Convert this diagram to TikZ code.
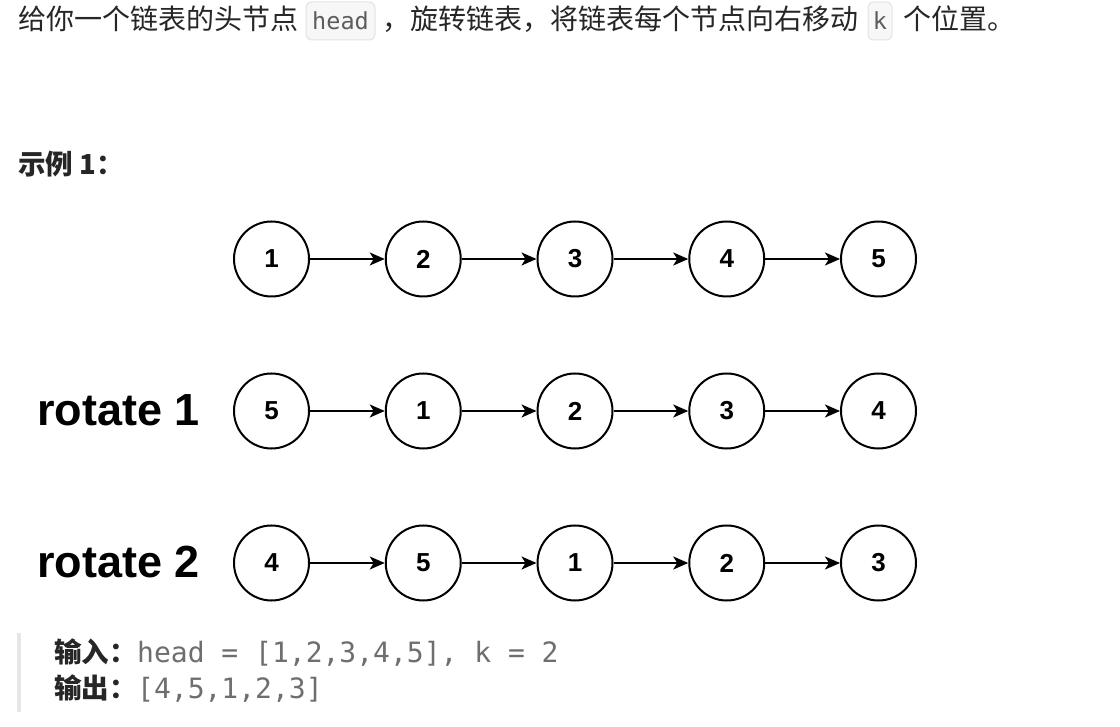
\documentclass[tikz,border=0pt]{standalone}
\usepackage{fontspec}
\setmainfont{Liberation Sans}
\newfontfamily\cjk{Noto Sans CJK SC}
\newfontfamily\monof{DejaVu Sans Mono}
\usetikzlibrary{arrows.meta}
\definecolor{txt}{HTML}{262626}
\definecolor{codefill}{HTML}{F7F7F7}
\definecolor{codeline}{HTML}{E3E3E3}
\definecolor{codetxt}{HTML}{5C5C5C}
\definecolor{monotxt}{HTML}{6E6E6E}
\definecolor{barcol}{HTML}{E6E6E6}
\begin{document}
\begin{tikzpicture}[x=1pt,y=-1pt,
  cjktxt/.style={anchor=base west, inner sep=0pt, text=txt, font=\cjk\fontsize{28}{30}\selectfont},
  cjkbold/.style={anchor=base west, inner sep=0pt, text=txt, font=\cjk\bfseries\fontsize{27.5}{30}\selectfont},
  codebox/.style={draw=codeline, fill=codefill, rounded corners=6pt, line width=1pt, inner sep=0pt, minimum height=38pt, text=codetxt, font=\monof\fontsize{23.5}{26}\selectfont},
  monotext/.style={anchor=base west, inner sep=0pt, text=monotxt, font=\monof\fontsize{28}{30}\selectfont},
  lnode/.style={circle, draw=black, line width=2pt, minimum size=75pt, inner sep=0pt, font=\bfseries\fontsize{26}{26}\selectfont},
  rowlabel/.style={anchor=base west, inner sep=0pt, font=\bfseries\fontsize{45}{45}\selectfont},
  arr/.style={line width=2pt, -{Stealth[length=15pt,width=13pt,inset=4pt]}}
]
\useasboundingbox (0,0) rectangle (1120,727);
\fill[white] (0,0) rectangle (1120,727);

% top sentence
\node[cjktxt] (t1) at (18,30) {给你一个链表的头节点};
\node[codebox, minimum width=69pt] (c1) at (340.5,21) {head};
\node[cjktxt] (t2) at (382,30) {，旋转链表，将链表每个节点向右移动};
\node[codebox, minimum width=24pt] (c2) at (880,21) {k};
\node[cjktxt] (t3) at (903,30) {个位置。};

% example title
\node[cjkbold] (ex) at (18,175) {示例 1：};

% rows
\foreach \r/\yy/\lst in {0/259/{1,2,3,4,5}, 1/411/{5,1,2,3,4}, 2/563/{4,5,1,2,3}}{
  \foreach \v [count=\i] in \lst {
    \node[lnode] (n\r\i) at ({271.5+151.75*(\i-1)},\yy) {\v};
  }
  \foreach \i [evaluate=\i as \j using int(\i+1)] in {1,2,3,4}{
    \draw[arr] (n\r\i) -- (n\r\j);
  }
}
\node[rowlabel] (r1) at (37,425) {rotate 1};
\node[rowlabel] (r2) at (37,577) {rotate 2};

% example block
\fill[barcol] (17,633) rectangle (21,712);
\node[cjkbold] (in) at (54,662) {输入：};
\node[monotext] (inv) at (137,662) {head = [1,2,3,4,5], k = 2};
\node[cjkbold] (out) at (54,698) {输出：};
\node[monotext] (outv) at (137,698) {[4,5,1,2,3]};
\end{tikzpicture}
\end{document}
